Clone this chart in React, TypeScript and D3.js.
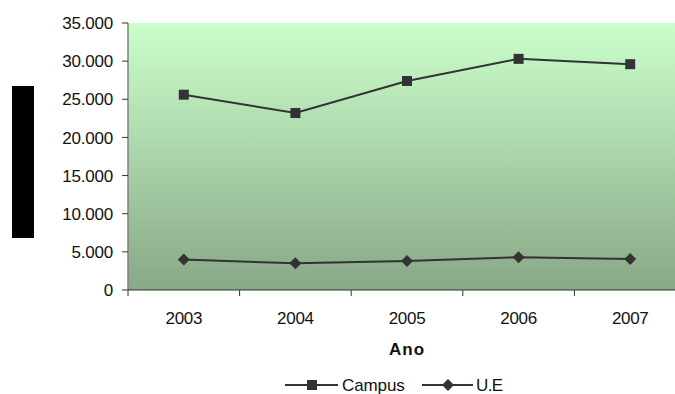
import React from "react";
import * as d3 from "d3";

const years = ["2003", "2004", "2005", "2006", "2007"];
const campus = [25600, 23200, 27400, 30300, 29600];
const ue = [4000, 3500, 3800, 4300, 4050];
const yTicks = [0, 5000, 10000, 15000, 20000, 25000, 30000, 35000];

const W = 675;
const H = 394;
const plot = { left: 128, top: 23, right: 686, bottom: 290 };

const fmt = (v: number) => (v === 0 ? "0" : d3.format(",")(v).replace(/,/g, "."));

export default function App() {
  const x = d3.scaleBand<string>().domain(years).range([plot.left, plot.right]);
  const y = d3.scaleLinear().domain([0, 35000]).range([plot.bottom, plot.top]);
  const cx = (yr: string) => (x(yr) ?? 0) + x.bandwidth() / 2;
  const line = d3
    .line<number>()
    .x((_, i) => cx(years[i]))
    .y((d) => y(d));

  const font = "'Liberation Sans', Arial, sans-serif";
  const ink = "#333333";
  const fs = 17;

  const diamond = (px: number, py: number, r: number) =>
    `M${px},${py - r}L${px + r},${py}L${px},${py + r}L${px - r},${py}Z`;

  return (
    <svg
      width={W}
      height={H}
      style={{ position: "absolute", left: 0, top: 0, background: "#fff" }}
      fontFamily={font}
    >
      <defs>
        <linearGradient id="bg" x1="0" y1="0" x2="0" y2="1">
          <stop offset="0%" stopColor="#ccffcc" />
          <stop offset="100%" stopColor="#88a886" />
        </linearGradient>
      </defs>

      <rect
        x={plot.left}
        y={plot.top}
        width={plot.right - plot.left}
        height={plot.bottom - plot.top}
        fill="url(#bg)"
      />

      {/* vertical axis */}
      <line x1={plot.left} x2={plot.left} y1={plot.top} y2={plot.bottom} stroke="#808080" strokeWidth={1.5} />
      {yTicks.map((t) => (
        <g key={t}>
          <line x1={plot.left - 6} x2={plot.left} y1={y(t)} y2={y(t)} stroke="#333" strokeWidth={1} />
          <text
            x={113}
            y={y(t)}
            dy="0.36em"
            textAnchor="end"
            fontSize={fs}
            letterSpacing={-0.2}
            fill="#111"
          >
            {fmt(t)}
          </text>
        </g>
      ))}

      {/* horizontal axis */}
      <line x1={plot.left} x2={plot.right} y1={plot.bottom} y2={plot.bottom} stroke="#333" strokeWidth={1.2} />
      {years.map((yr) => (
        <g key={yr}>
          <line
            x1={x(yr) ?? 0}
            x2={x(yr) ?? 0}
            y1={plot.bottom}
            y2={plot.bottom + 6}
            stroke="#333"
          />
          <text x={cx(yr)} y={318} dy="0.36em" textAnchor="middle" fontSize={fs} letterSpacing={-0.3} fill="#111">
            {yr}
          </text>
        </g>
      ))}
      <text x={407} y={349} dy="0.36em" textAnchor="middle" fontSize={fs} fontWeight="bold" letterSpacing={1} fill="#111">
        Ano
      </text>

      {/* series */}
      <path d={line(campus) ?? ""} fill="none" stroke={ink} strokeWidth={2} />
      {campus.map((v, i) => (
        <rect key={i} x={cx(years[i]) - 5} y={y(v) - 5} width={10} height={10} fill={ink} />
      ))}
      <path d={line(ue) ?? ""} fill="none" stroke={ink} strokeWidth={2} />
      {ue.map((v, i) => (
        <path key={i} d={diamond(cx(years[i]), y(v), 6)} fill={ink} />
      ))}

      {/* legend */}
      <line x1={285} x2={338} y1={385} y2={385} stroke={ink} strokeWidth={2} />
      <rect x={307} y={380} width={10} height={10} fill={ink} />
      <text x={342} y={385} dy="0.36em" fontSize={fs} letterSpacing={-0.1} fill="#111">
        Campus
      </text>
      <line x1={422} x2={473} y1={385} y2={385} stroke={ink} strokeWidth={2} />
      <path d={diamond(448, 385, 6)} fill={ink} />
      <text x={476} y={385} dy="0.36em" fontSize={fs} letterSpacing={-0.6} fill="#111">
        U.E
      </text>

      <rect x={12} y={86} width={22} height={152} fill="#000" />
    </svg>
  );
}
